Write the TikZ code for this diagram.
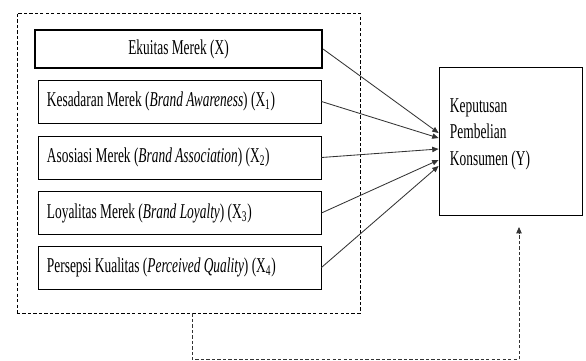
\documentclass[tikz,border=0pt]{standalone}
\usepackage{fontspec}
\setmainfont{Liberation Serif}[FakeStretch=0.635]
\usepackage{tikz}
\usetikzlibrary{arrows.meta}

\begin{document}
\begin{tikzpicture}[x=0.025cm, y=-0.025cm,
    teks/.style={font=\fontsize{15}{18.8}\selectfont},
    kotak/.style={teks, draw, line width=0.6pt, minimum width=7.075cm, minimum height=1.075cm,
        inner xsep=0.225cm, text width=6.625cm, align=flush left},
    panah/.style={-{Triangle[length=4.5pt,width=3.8pt]}, line width=0.6pt, draw=black!80},
    putus/.style={dash pattern=on 2.4pt off 1.5pt, line width=0.6pt}]
            \useasboundingbox (0,0) rectangle (586,361);
            \node [draw, putus, minimum width=8.575cm, minimum height=7.5cm] (grup) at (188.5,163) {};
            \node [teks, draw, line width=1.4pt, minimum width=7.175cm, minimum height=0.95cm] (ekuitas) at (178.5,49) {Ekuitas Merek (X)};
            \node [kotak] (kesadaran) at (179.5,101.5) {Kesadaran Merek (\textit{Brand Awareness}) (X\textsubscript{1})};
            \node [kotak] (asosiasi) at (179.5,157.5) {Asosiasi Merek (\textit{Brand Association}) (X\textsubscript{2})};
            \node [kotak] (loyalitas) at (179.5,213) {Loyalitas Merek (\textit{Brand Loyalty}) (X\textsubscript{3})};
            \node [kotak] (persepsi) at (179.5,267.5) {Persepsi Kualitas (\textit{Perceived Quality}) (X\textsubscript{4})};
            \node [teks, draw, line width=0.6pt, minimum width=3.575cm, minimum height=3.7cm,
                inner xsep=0.275cm, text width=3.025cm, align=flush left] (keputusan) at (510.5,141)
                {Keputusan\\ Pembelian\\ Konsumen (Y)\rule[-0.45cm]{0pt}{0pt}};
            \coordinate (umpan) at (519,227);
            % variabel X ke Y
            \draw [panah] (ekuitas.east) -- ([yshift=0.2cm]keputusan.west);
            \draw [panah] (kesadaran.east) -- ([yshift=0.075cm]keputusan.west);
            \draw [panah] (asosiasi.east) -- ([yshift=-0.2cm]keputusan.west);
            \draw [panah] (loyalitas.east) -- ([yshift=-0.475cm]keputusan.west);
            \draw [panah] (persepsi.east) -- ([yshift=-0.625cm]keputusan.west);
            \draw [panah, putus] ([xshift=0.09cm]grup.south) -- ++(0,46) -| (umpan);
        \end{tikzpicture}
\end{document}
